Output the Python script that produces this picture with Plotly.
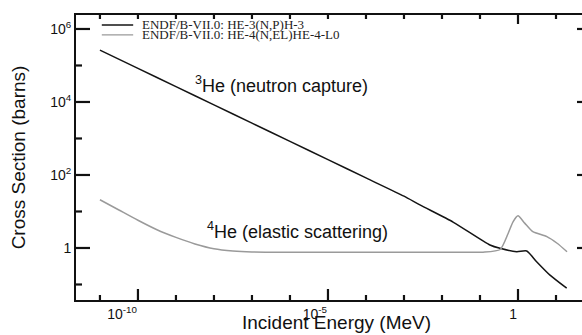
import plotly.graph_objects as go

# ENDF/B-VII.0 cross sections (energy in MeV, cross section in barns)
he3_energy = [1e-11, 1e-10, 1e-9, 1e-8, 1e-7, 1e-6, 1e-5, 1e-4, 1e-3, 2.63e-3,
              2e-2, 0.183, 0.336, 0.923, 1.69, 3.09, 6.95, 19.1]
he3_xs = [2.63e5, 8.3e4, 2.63e4, 8.3e3, 2.63e3, 832, 263, 83, 26.3, 15.1,
          5.06, 1.21, 0.98, 0.79, 0.83, 0.42, 0.18, 0.079]

he4_energy = [1e-11, 3.16e-11, 1e-10, 3.16e-10, 1e-9, 3.16e-9, 1e-8, 3.16e-8,
              1e-7, 3.16e-7, 1e-4, 1e-2, 0.12, 0.34, 0.55, 0.74, 1.0, 1.5, 2.45,
              5.75, 10.7, 19.5]
he4_xs = [21, 11, 5.75, 3.16, 1.95, 1.29, 0.955, 0.83,
          0.78, 0.77, 0.77, 0.77, 0.77, 0.91, 2.5, 5.2, 7.6, 4.8, 2.8,
          2.05, 1.35, 0.79]

he3_name = "ENDF/B-VII.0: HE-3(N,P)H-3"
he4_name = "ENDF/B-VII.0: HE-4(N,EL)HE-4-L0"

x_ticks = [1e-10, 1e-5, 1]
x_tick_text = ["10<sup>-10</sup>", "10<sup>-5</sup>", "1"]
x_minor = [1e-11, 1e-9, 1e-8, 1e-7, 1e-6, 1e-4, 1e-3, 1e-2, 1e-1, 10]
x_top = [1e-11, 1e-10, 1e-9, 1e-8, 1e-7, 1e-6, 1e-5, 1e-4, 1e-3, 1e-2, 1e-1, 10]
x_top_major = [1]
y_ticks = [1, 1e2, 1e4, 1e6]
y_tick_text = ["1", "10<sup>2</sup>", "10<sup>4</sup>", "10<sup>6</sup>"]
y_minor = [0.1, 10, 1e3, 1e5]

X_RANGE = [-11.63, 1.684]
Y_RANGE = [-1.425, 6.383]
INK = "#111111"
SANS = "Liberation Sans, Arial, Helvetica, sans-serif"
SERIF = "Liberation Serif, Times New Roman, serif"

fig = go.Figure()
fig.add_trace(go.Scatter(x=he3_energy, y=he3_xs, mode="lines", name=he3_name,
                         line=dict(color="#141414", width=1.5, shape="spline", smoothing=0.6),
                         showlegend=False))
fig.add_trace(go.Scatter(x=he4_energy, y=he4_xs, mode="lines", name=he4_name,
                         line=dict(color="#9a9a9a", width=1.5, shape="spline", smoothing=0.6),
                         showlegend=False))

# inward tick marks on all four edges, positioned on the data scales
tick_line = dict(color=INK, width=2.2)
# bottom edge (pointing up) and top edge (pointing down)
for vals, length, edge, sign in [(x_ticks, 11, 0, 1), (x_minor, 5, 0, 1),
                                 (x_top, 4, 1, -1), (x_top_major, 9, 1, -1)]:
    for v in vals:
        fig.add_shape(type="line", xref="x", x0=v, x1=v,
                      yref="paper", ysizemode="pixel", yanchor=edge,
                      y0=0, y1=sign * length, line=tick_line, layer="above")
# left edge (pointing right) and right edge (pointing left)
for vals, length, edge, sign in [(y_ticks, 14, 0, 1), (y_minor, 6, 0, 1),
                                 (y_ticks, 5, 1, -1)]:
    for v in vals:
        fig.add_shape(type="line", yref="y", y0=v, y1=v,
                      xref="paper", xsizemode="pixel", xanchor=edge,
                      x0=0, x1=sign * length, line=tick_line, layer="above")

fig.update_layout(
    width=582, height=335,
    margin=dict(l=76, r=0, t=15, b=35),
    paper_bgcolor="white", plot_bgcolor="white",
    font=dict(family=SANS, color=INK),
    xaxis=dict(
        type="log", range=X_RANGE, showgrid=False, zeroline=False,
        showline=True, linecolor=INK, linewidth=2, mirror=True, ticks="",
        tickmode="array", tickvals=x_ticks, ticktext=x_tick_text,
        ticklabelposition="outside left",
        tickfont=dict(size=14, family=SANS, color=INK),
    ),
    yaxis=dict(
        type="log", range=Y_RANGE, showgrid=False, zeroline=False,
        showline=True, linecolor=INK, linewidth=2, ticks="",
        tickmode="array", tickvals=y_ticks, ticktext=y_tick_text,
        tickfont=dict(size=14, family=SANS, color=INK),
        title=dict(text="Cross Section (barns)", font=dict(size=19, family=SANS, color=INK),
                   standoff=20),
    ),
)

# x-axis title
fig.add_annotation(x=0.514, y=-0.1228, xref="paper", yref="paper",
                   xanchor="center", yanchor="bottom", showarrow=False,
                   text="Incident Energy (MeV)",
                   font=dict(size=19, family=SANS, color=INK))

# curve labels
fig.add_annotation(x=-8.55, y=4.48, xref="x", yref="y", xanchor="left", yanchor="middle",
                   text="<sup>3</sup>He (neutron capture)", showarrow=False,
                   font=dict(size=18, family=SANS, color=INK))
fig.add_annotation(x=-8.24, y=0.47, xref="x", yref="y", xanchor="left", yanchor="middle",
                   text="<sup>4</sup>He (elastic scattering)", showarrow=False,
                   font=dict(size=18, family=SANS, color=INK))

# compact key in the upper-left corner
key = [(he3_name, "#141414", 0.965), (he4_name, "#9a9a9a", 0.930)]
for name, color, yk in key:
    fig.add_shape(type="line", xref="paper", yref="paper",
                  x0=0.051, x1=0.113, y0=yk, y1=yk,
                  line=dict(color=color, width=1.3))
    fig.add_annotation(x=0.126, y=yk, xref="paper", yref="paper",
                       xanchor="left", yanchor="middle", text=name, showarrow=False,
                       font=dict(size=13, family=SERIF, color="#222222"))

fig.write_html("out.html")
